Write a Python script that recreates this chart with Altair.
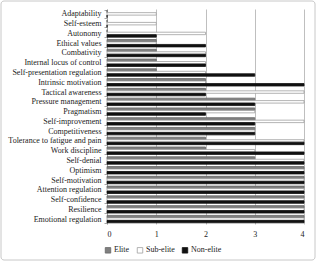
import altair as alt
import pandas as pd

categories = [
    "Adaptability", "Self-esteem", "Autonomy", "Ethical values", "Combativity",
    "Internal locus of control", "Self-presentation regulation", "Intrinsic motivation",
    "Tactical awareness", "Pressure management", "Pragmatism", "Self-improvement",
    "Competitiveness", "Tolerance to fatigue and pain", "Work discipline", "Self-denial",
    "Optimism", "Self-motivation", "Attention regulation", "Self-confidence",
    "Resilience", "Emotional regulation",
]
elite =     [0, 0, 0, 1, 1, 1, 1, 2, 2, 3, 3, 3, 3, 2, 2, 3, 4, 4, 4, 4, 4, 4]
sub_elite = [1, 1, 2, 1, 2, 2, 2, 2, 4, 4, 3, 4, 3, 4, 3, 4, 4, 4, 4, 4, 4, 4]
non_elite = [0, 0, 1, 2, 2, 2, 3, 4, 2, 3, 2, 3, 3, 4, 4, 4, 4, 4, 4, 4, 4, 4]
series = ["Elite", "Sub-elite", "Non-elite"]
x_ticks = [0, 1, 2, 3, 4]

rows = []
for name, vals in zip(series, [elite, sub_elite, non_elite]):
    for c, v in zip(categories, vals):
        rows.append({"category": c, "group": name, "value": v})
df = pd.DataFrame(rows)

FONT = "Liberation Serif"

bars = alt.Chart(df).mark_bar(strokeWidth=0.8).encode(
    y=alt.Y("category:N", sort=categories, title=None,
            scale=alt.Scale(paddingInner=0.24, paddingOuter=0.12),
            axis=alt.Axis(labelFont=FONT, labelFontSize=8, labelColor="#222",
                          domainColor="#a6a6a6", tickColor="#a6a6a6", tickSize=3,
                          tickBand="extent", labelPadding=3, grid=False)),
    yOffset=alt.YOffset("group:N", sort=series,
                        scale=alt.Scale(paddingInner=0, paddingOuter=0)),
    x=alt.X("value:Q", title=None,
            scale=alt.Scale(domain=[0, 4], nice=False),
            axis=alt.Axis(values=x_ticks, format="d", labelFont=FONT, labelFontSize=8,
                          labelColor="#222", domain=False, ticks=False, grid=True,
                          gridColor="#bfbfbf", gridWidth=1, labelPadding=6)),
    fill=alt.Fill("group:N", sort=series,
                  scale=alt.Scale(domain=series, range=["#808080", "#ffffff", "#111111"]),
                  legend=alt.Legend(title=None, orient="none", direction="horizontal",
                                    legendX=-3, legendY=237, symbolType="square",
                                    symbolSize=30, labelFont=FONT, labelFontSize=8,
                                    labelColor="#222", columnPadding=5, labelOffset=2,
                                    symbolStrokeWidth=0.8)),
    stroke=alt.Stroke("group:N", sort=series,
                      scale=alt.Scale(domain=series, range=["#666666", "#a0a0a0", "#111111"]),
                      legend=None),
)

frame = alt.Chart(alt.Data(values=[{"a": 1}])).mark_rect(
    fill="transparent", stroke="#c8c8c8", strokeWidth=1, cornerRadius=3
).encode(
    x=alt.value(-106), x2=alt.value(208),
    y=alt.value(-8), y2=alt.value(251),
)

chart = alt.layer(frame, bars).properties(
    width=197, height=215,
    padding={"left": 107, "top": 9, "right": 12, "bottom": 37},
    autosize=alt.AutoSizeParams(type="none"),
    background="white",
).configure_view(stroke=None)

chart.save("out.html", embed_options={"renderer": "svg", "actions": False})
